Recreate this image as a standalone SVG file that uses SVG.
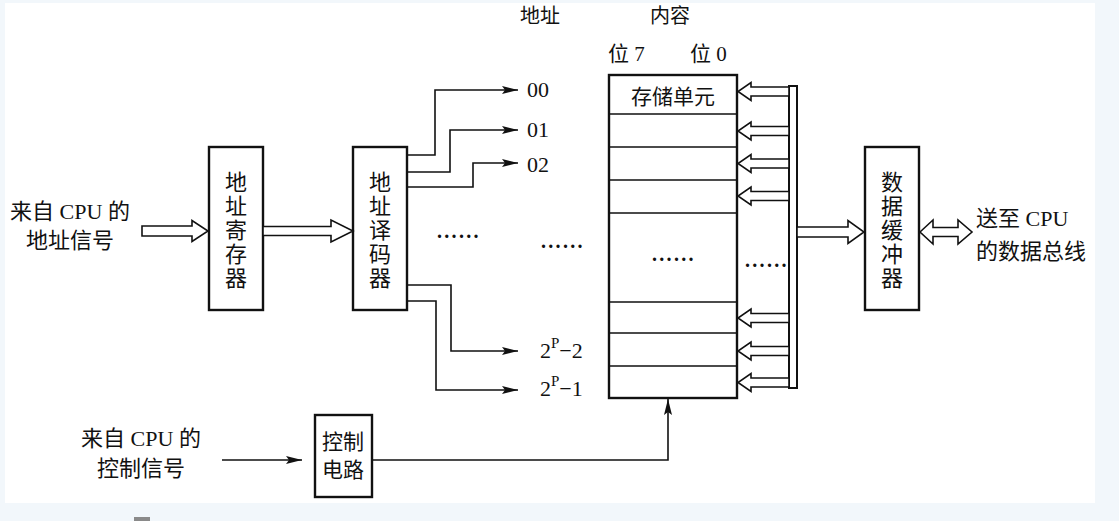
<svg xmlns="http://www.w3.org/2000/svg" width="1119" height="521" viewBox="0 0 1119 521">
<defs>
<style>
.t{font-family:"Liberation Serif","Noto Sans CJK SC",serif;fill:#111;}
.box{fill:#fff;stroke:#111;stroke-width:2.4;}
.ln{fill:none;stroke:#111;stroke-width:1.6;}
.hol{fill:#fff;stroke:#111;stroke-width:1.6;stroke-linejoin:miter;}
.dots{font-family:"Liberation Serif",serif;font-size:20px;font-weight:bold;letter-spacing:2.3px;fill:#111;}
</style>
<marker id="ah" markerWidth="16" markerHeight="10" refX="16" refY="5" orient="auto" markerUnits="userSpaceOnUse">
<path d="M0,1 L16,5 L0,9 L3,5 z" fill="#111"/>
</marker>
</defs>
<rect x="0" y="0" width="1119" height="521" fill="#f2f7fb"/>
<rect x="5" y="3" width="1090" height="500" fill="#fff"/>
<rect x="134" y="517" width="16" height="4" fill="#8a8a8a"/>

<g id="addr-reg">
<rect class="box" x="209" y="147" width="54" height="163"/>
<text class="t" font-size="22" text-anchor="middle"><tspan x="236" y="190">地</tspan><tspan x="236" y="214">址</tspan><tspan x="236" y="238">寄</tspan><tspan x="236" y="262">存</tspan><tspan x="236" y="286">器</tspan></text>
</g>

<g id="addr-dec">
<rect class="box" x="353" y="147" width="54" height="163"/>
<text class="t" font-size="22" text-anchor="middle"><tspan x="380" y="190">地</tspan><tspan x="380" y="214">址</tspan><tspan x="380" y="238">译</tspan><tspan x="380" y="262">码</tspan><tspan x="380" y="286">器</tspan></text>
</g>

<g id="memory">
<rect class="box" x="609" y="75" width="128" height="323"/>
<path class="ln" stroke-width="2.2" d="M609,114H737M609,147H737M609,180H737M609,213H737M609,302H737M609,333H737M609,366H737"/>
<text class="t" x="673" y="104" font-size="21" text-anchor="middle">存储单元</text>
</g>

<g id="bus">
<rect x="789" y="86" width="8" height="302" fill="#fff" stroke="#111" stroke-width="2"/>
</g>

<g id="data-buf">
<rect class="box" x="865" y="147" width="54" height="163"/>
<text class="t" font-size="22" text-anchor="middle"><tspan x="892" y="190">数</tspan><tspan x="892" y="214">据</tspan><tspan x="892" y="238">缓</tspan><tspan x="892" y="262">冲</tspan><tspan x="892" y="286">器</tspan></text>
</g>

<g id="ctrl">
<rect class="box" x="315" y="415" width="57" height="82"/>
<text class="t" font-size="21" text-anchor="middle"><tspan x="343" y="449">控制</tspan><tspan x="343" y="477">电路</tspan></text>
</g>

<g id="connectors">
<polygon class="hol" points="142,226 192,226 192,220.5 208,231 192,241.5 192,236 142,236"/>
<polygon class="hol" points="263,226.5 331,226.5 331,220 353,231 331,242 331,235.5 263,235.5"/>
<path class="ln" marker-end="url(#ah)" d="M407,155H435V90H518"/>
<path class="ln" marker-end="url(#ah)" d="M407,172H450V130H518"/>
<path class="ln" marker-end="url(#ah)" d="M407,187H473V163H518"/>
<path class="ln" marker-end="url(#ah)" d="M407,285H451V351H518"/>
<path class="ln" marker-end="url(#ah)" d="M407,301H436V390H518"/>
<polygon class="hol" points="789,87 751,87 751,82.5 738,91.5 751,100.5 751,96 789,96"/>
<polygon class="hol" points="789,126.5 751,126.5 751,122 738,131 751,140 751,135.5 789,135.5"/>
<polygon class="hol" points="789,159 751,159 751,154.5 738,163.5 751,172.5 751,168 789,168"/>
<polygon class="hol" points="789,191.5 751,191.5 751,187 738,196 751,205 751,200.5 789,200.5"/>
<polygon class="hol" points="789,313.5 751,313.5 751,309 738,318 751,327 751,322.5 789,322.5"/>
<polygon class="hol" points="789,346.5 751,346.5 751,342 738,351 751,360 751,355.5 789,355.5"/>
<polygon class="hol" points="789,378 751,378 751,373.5 738,382.5 751,391.5 751,387 789,387"/>
<polygon class="hol" points="797,227 848,227 848,220.5 864,232 848,243.5 848,237 797,237"/>
<polygon class="hol" points="920,232 933,220 933,227.5 958,227.5 958,220 972,232 958,244 958,236.5 933,236.5 933,244"/>
<path class="ln" marker-end="url(#ah)" d="M222,460H302"/>
<path class="ln" marker-end="url(#ah)" d="M372,460H668V399"/>
</g>

<g id="labels">
<text class="t" x="540" y="23" font-size="20" text-anchor="middle">地址</text>
<text class="t" x="670" y="23" font-size="20" text-anchor="middle">内容</text>
<text class="t" x="608" y="61" font-size="21">位 7</text>
<text class="t" x="690" y="61" font-size="21">位 0</text>
<text class="t" x="70" y="219" font-size="22" text-anchor="middle">来自 CPU 的</text>
<text class="t" x="70" y="248" font-size="22" text-anchor="middle">地址信号</text>
<text class="t" x="976" y="226" font-size="22">送至 CPU</text>
<text class="t" x="976" y="259" font-size="22">的数据总线</text>
<text class="t" x="141" y="446" font-size="22" text-anchor="middle">来自 CPU 的</text>
<text class="t" x="141" y="476" font-size="22" text-anchor="middle">控制信号</text>
<text class="t" x="527" y="97" font-size="22">00</text>
<text class="t" x="527" y="137" font-size="22">01</text>
<text class="t" x="527" y="172" font-size="22">02</text>
<text class="t" x="540" y="358" font-size="22">2<tspan font-size="15" dy="-10">P</tspan><tspan dy="10">−2</tspan></text>
<text class="t" x="540" y="396" font-size="22">2<tspan font-size="15" dy="-10">P</tspan><tspan dy="10">−1</tspan></text>
<text class="dots" x="437" y="238">......</text>
<text class="dots" x="541" y="248">......</text>
<text class="dots" x="652" y="261">......</text>
<text class="dots" x="745" y="267">......</text>
</g>
</svg>
